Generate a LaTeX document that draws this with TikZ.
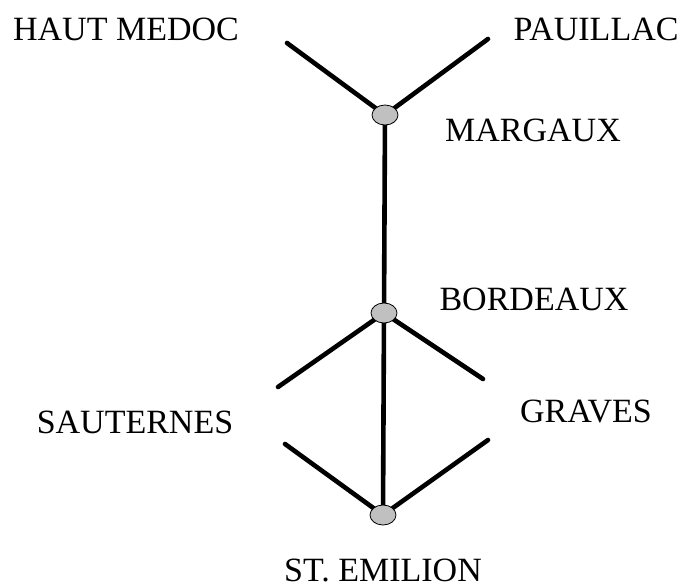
\documentclass[tikz,border=0pt]{standalone}
\usepackage{fontspec}
\setmainfont{Liberation Serif}
\usetikzlibrary{shapes.geometric}
\definecolor{nodegray}{RGB}{192,192,192}
\begin{document}
\begin{tikzpicture}[x=1pt,y=-1pt,
  joint/.style={ellipse,draw=black,line width=0.8pt,fill=nodegray,minimum width=26pt,minimum height=20pt,inner sep=0pt},
  edge/.style={line width=4.6pt,line cap=round},
  lbl/.style={anchor=base,font=\fontsize{34}{40}\selectfont,inner sep=0pt,text depth=0pt}]
\useasboundingbox (0,0) rectangle (683,588);
\coordinate (margaux) at (385,115);
\coordinate (bordeaux) at (384,313);
\coordinate (emilion) at (383,515);
\coordinate (hm) at (287,43);
\coordinate (pa) at (488,39);
\coordinate (bl) at (278,387);
\coordinate (br) at (483,379);
\coordinate (el) at (285,444);
\coordinate (er) at (488,440);
\draw[edge] (hm) -- (margaux) -- (pa);
\draw[edge] (margaux) -- (bordeaux) -- (emilion);
\draw[edge] (bl) -- (bordeaux) -- (br);
\draw[edge] (el) -- (emilion) -- (er);
\node[joint] (n1) at (margaux) {};
\node[joint] (n2) at (bordeaux) {};
\node[joint] (n3) at (emilion) {};
\node[lbl] (t1) at (126,41) {HAUT MEDOC};
\node[lbl] (t2) at (596,41) {PAUILLAC};
\node[lbl] (t3) at (533,142) {MARGAUX};
\node[lbl] (t4) at (534,310) {BORDEAUX};
\node[lbl] (t5) at (135,433) {SAUTERNES};
\node[lbl] (t6) at (586,422) {GRAVES};
\node[lbl] (t7) at (383,581) {ST. EMILION};
\end{tikzpicture}
\end{document}
